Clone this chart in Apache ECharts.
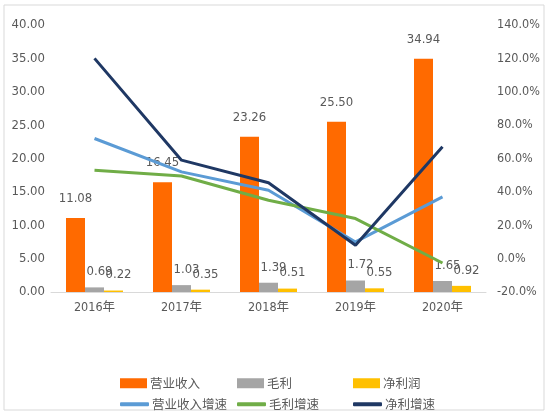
<!DOCTYPE html>
<html><head><meta charset="utf-8">
<script src="https://cdn.jsdelivr.net/npm/echarts@6/dist/echarts.min.js"></script>
<style>html,body{margin:0;padding:0;background:#fff}#c{width:550px;height:416px}</style>
</head><body><div id="c"></div>
<script>
var categories = ['2016年','2017年','2018年','2019年','2020年'];
var revenue = [11.08, 16.45, 23.26, 25.50, 34.94];
var grossProfit = [0.69, 1.03, 1.39, 1.72, 1.65];
var netProfit = [0.22, 0.35, 0.51, 0.55, 0.92];
var revenueGrowth = [72, 52, 41, 10, 37];
var grossGrowth = [53, 49.5, 35, 24, -2.6];
var netGrowth = [120, 59, 45.5, 8, 67];

var font = '"DejaVu Sans Condensed","Noto Sans CJK SC",sans-serif';
var txt = '#595959';
var chart = echarts.init(document.getElementById('c'));
function legendAt(name, left, top, isBar) {
  return {
    data: [{name: name, icon: isBar ? 'rect' : 'roundRect'}], left: left, top: top, itemGap: 0,
    itemWidth: isBar ? 27 : 29, itemHeight: isBar ? 10 : 4,
    textStyle: {color: txt, fontSize: 12.5, fontFamily: '"Noto Sans CJK SC",sans-serif', padding: [0,0,0,-2]},
    selectedMode: false
  };
}
var smallLabel = {
  show: true, position: 'top', distance: 9, offset: [5, 0], color: txt, fontSize: 13, fontFamily: font,
  formatter: function (p) { return p.value.toFixed(2); }
};
chart.setOption({
  animation: false,
  backgroundColor: '#fff',
  graphic: [{type: 'rect', shape: {x: 4, y: 5, width: 540, height: 405},
    style: {fill: 'none', stroke: '#d9d9d9', lineWidth: 1}, silent: true}],
  legend: [
    legendAt('营业收入', 115, 372, true),
    legendAt('毛利', 232, 372, true),
    legendAt('净利润', 348, 372, true),
    legendAt('营业收入增速', 115, 393, false),
    legendAt('毛利增速', 232, 393, false),
    legendAt('净利增速', 348, 393, false)
  ],
  grid: {left: 51, right: 64, top: 25, bottom: 124},
  xAxis: {
    type: 'category', data: categories,
    axisLine: {lineStyle: {color: '#d9d9d9', width: 1}},
    axisTick: {show: false},
    axisLabel: {color: txt, fontSize: 12.5, fontFamily: font, margin: 9}
  },
  yAxis: [{
    type: 'value', min: 0, max: 40, interval: 5,
    axisLine: {show: false}, axisTick: {show: false}, splitLine: {show: false},
    axisLabel: {color: txt, fontSize: 13, fontFamily: font, margin: 6,
      formatter: function (v) { return v.toFixed(2); }}
  }, {
    type: 'value', min: -20, max: 140, interval: 20,
    axisLine: {show: false}, axisTick: {show: false}, splitLine: {show: false},
    axisLabel: {color: txt, fontSize: 12.5, fontFamily: font, margin: 11,
      formatter: function (v) { return v.toFixed(1) + '%'; }}
  }],
  series: [{
    name: '营业收入', type: 'bar', data: revenue, barWidth: 19, barGap: '0%',
    itemStyle: {color: '#FF6A00'},
    label: {show: true, position: 'top', distance: 13, color: txt, fontSize: 13, fontFamily: font,
      formatter: function (p) { return p.value.toFixed(2); }}
  }, {
    name: '毛利', type: 'bar', data: grossProfit, barWidth: 19, barGap: '0%',
    itemStyle: {color: '#A5A5A5'},
    label: smallLabel
  }, {
    name: '净利润', type: 'bar', data: netProfit, barWidth: 19, barGap: '0%',
    itemStyle: {color: '#FFC000'},
    label: smallLabel
  }, {
    name: '营业收入增速', type: 'line', yAxisIndex: 1, data: revenueGrowth,
    symbol: 'none', lineStyle: {color: '#5B9BD5', width: 3}, itemStyle: {color: '#5B9BD5'}
  }, {
    name: '毛利增速', type: 'line', yAxisIndex: 1, data: grossGrowth,
    symbol: 'none', lineStyle: {color: '#70AD47', width: 3}, itemStyle: {color: '#70AD47'}
  }, {
    name: '净利增速', type: 'line', yAxisIndex: 1, data: netGrowth,
    symbol: 'none', lineStyle: {color: '#1F3864', width: 3}, itemStyle: {color: '#1F3864'}
  }]
});
</script></body></html>
